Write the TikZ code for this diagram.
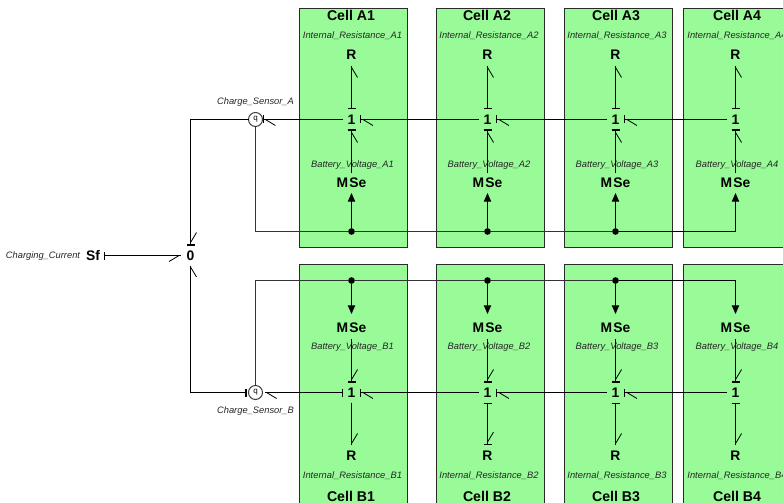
\documentclass[tikz,border=0pt]{standalone}
\usepackage{fontspec}
\setmainfont{Liberation Sans}
\usetikzlibrary{arrows.meta}
\definecolor{cellgreen}{HTML}{98FB98}
\definecolor{edge}{HTML}{2A2A2A}
\tikzset{
  x=0.75pt,y=-0.75pt,
  bl/.tip={Straight Barb[harpoon,length=7.5pt,width=9pt,line width=0.6pt]},
  br/.tip={Straight Barb[harpoon,swap,length=7.5pt,width=9pt,line width=0.6pt]},
  bb/.tip={Bar[width=6pt,line width=1.1pt]},
  bond/.style={draw=black,line width=0.75pt,preaction={draw,arrows=-}},
  signal/.style={draw=black!80,line width=0.75pt},
  sigarrow/.style={draw=black,line width=0.75pt,-{Triangle[length=6.5pt,width=5.5pt]}},
  cellbox/.style={draw=edge,fill=cellgreen,line width=0.8pt,minimum width=81pt,inner sep=0pt,outer sep=0pt},
  title/.style={font=\fontsize{10.6}{12}\selectfont\bfseries,inner sep=0pt},
  lab/.style={font=\fontsize{7}{8}\selectfont\itshape,text=black!85,inner sep=0pt},
  elem/.style={font=\fontsize{10.4}{12}\selectfont\bfseries,inner sep=0pt,outer sep=0pt,text=black},
  jn/.style={elem,minimum width=12.75pt,minimum height=15pt},
  rn/.style={elem,minimum height=16.5pt,minimum width=10pt},
  ma/.style={elem,minimum height=15pt,minimum width=20pt},
  mb/.style={elem,minimum height=16.5pt,minimum width=20pt},
  sens/.style={circle,draw=black!75,fill=none,line width=0.8pt,minimum size=10.5pt,inner sep=0pt,outer sep=0pt,font=\fontsize{6}{6}\selectfont},
  dotn/.style={circle,fill=black,minimum size=5pt,inner sep=0pt,outer sep=0pt},
}
\begin{document}
\begin{tikzpicture}
\useasboundingbox (0,0) rectangle (783,503);
\clip (0,0) rectangle (783,503);
\fill[white] (0,0) rectangle (783,503);
% cells
\foreach \n/\cx/\tx in {1/353.5/351,2/490.5/487,3/618.5/616,4/737.5/737}{
  \node[cellbox,minimum height=179.25pt] (cellA\n) at (\cx,128) {};
  \node[cellbox,minimum height=225pt] (cellB\n) at (\cx,414.5) {};
  \node[title] (tA\n) at (\tx,15.5) {Cell A\n};
  \node[title] (tB\n) at (\tx,496.5) {Cell B\n};
}
% elements
\foreach \n/\x/\lx in {1/351.5/352.5,2/487.5/489,3/615.5/617,4/735.5/737}{
  \node[lab] (irA\n) at (\lx,36) {Internal\_Resistance\_A\n};
  \node[lab] (bvA\n) at (\lx,165) {Battery\_Voltage\_A\n};
  \node[lab] (bvB\n) at (\lx,347.5) {Battery\_Voltage\_B\n};
  \node[lab] (irB\n) at (\lx,476) {Internal\_Resistance\_B\n};
  \node[rn] (RA\n) at (\x,55) {R};
  \node[jn] (JA\n) at (\x,119.5) {1};
  \node[ma] (MA\n) at (\x,183) {M\kern1pt Se};
  \node[mb] (MB\n) at (\x,328) {M\kern1pt Se};
  \node[jn] (JB\n) at (\x,392.5) {1};
  \node[rn] (RB\n) at (\x,456) {R};
}
\foreach \n/\x in {1/351.5,2/487.5,3/615.5}{
  \node[dotn] (dA\n) at (\x,231.5) {};
  \node[dotn] (dB\n) at (\x,280.5) {};
}
\node[elem,minimum width=15pt,minimum height=15pt] (Z) at (190.5,255.5) {0};
\node[elem,minimum width=16.5pt,minimum height=15pt] (Sf) at (93,255.5) {Sf};
\node[lab] (lc) at (43,256) {Charging\_Current};
\node[sens] (SA) at (255.5,119.5) {\raisebox{2pt}{q}};
\node[sens] (SB) at (255.5,392.5) {\raisebox{2pt}{q}};
\node[lab] (lsa) at (255.5,102) {Charge\_Sensor\_A};
\node[lab] (lsb) at (255.5,411) {Charge\_Sensor\_B};
% vertical bonds, cells A and B
\foreach \n in {1,2,3,4}{
  \draw[bond,{bb}-{br}] (JA\n.north) -- (RA\n.south);
  \draw[bond,-{br[]bb}] (MA\n.north) -- (JA\n.south);
  \draw[bond,-{bl[]bb}] (MB\n.south) -- (JB\n.north);
}
\draw[bond,-{bl}] (JB1.south) -- (RB1.north);
\draw[bond,{bb}-{bl[]bb}] (JB2.south) -- (RB2.north);
\draw[bond,{bb}-{bl}] (JB3.south) -- (RB3.north);
\draw[bond,{bb}-{bl}] (JB4.south) -- (RB4.north);
% horizontal bonds
\draw[bond,-{bl[]bb}] (JA4.west) -- (JA3.east);
\draw[bond,-{bl[]bb}] (JA3.west) -- (JA2.east);
\draw[bond,-{bl[]bb}] (JA2.west) -- (JA1.east);
\draw[bond,-{bl[]bb}] (JA1.west) -- (SA.east);
\draw[bond,-{bl[]bb}] (JB4.west) -- (JB3.east);
\draw[bond,-{bl[]bb}] (JB3.west) -- (JB2.east);
\draw[bond,-{bl[]bb}] (JB2.west) -- (JB1.east);
\draw[bond,{bb}-{bl}] (JB1.west) -- ([xshift=2pt]SB.east);
% junction zero
\draw[bond,{bb}-{br}] (Sf.east) -- (Z.west);
\draw[bond,-{bl[]bb}] (SA.west) -| (Z.north);
\draw[bond,{bb}-{br}] ([xshift=-1.5pt]SB.west) -| (Z.south);
% signals
\draw[signal] (SA.south) |- (dA1);
\draw[signal] (dA1) -- (dA2);
\draw[signal] (dA2) -- (dA3);
\draw[signal] (SB.north) |- (dB1);
\draw[signal] (dB1) -- (dB2);
\draw[signal] (dB2) -- (dB3);
\foreach \n in {1,2,3}{
  \draw[sigarrow] (dA\n) -- (MA\n.south);
  \draw[sigarrow,shorten >=2.25pt] (dB\n) -- (MB\n.north);
}
\draw[sigarrow] (dA3) -| (MA4.south);
\draw[sigarrow,shorten >=2.25pt] (dB3) -| (MB4.north);
\end{tikzpicture}
\end{document}
